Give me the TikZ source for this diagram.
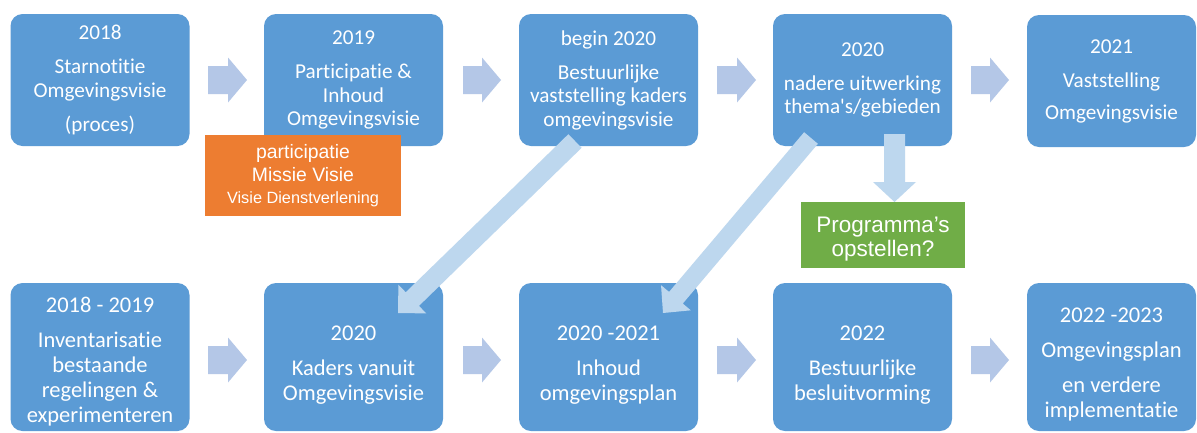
\documentclass[tikz,border=0pt]{standalone}
\usepackage{fontspec}
\setmainfont{Carlito}[Ligatures={TeX,NoCommon}]
\newfontfamily\arialf{Liberation Sans}
\usetikzlibrary{calc}
\definecolor{boxblue}{HTML}{5B9BD5}
\definecolor{arrowblue}{HTML}{B4C7E7}
\definecolor{diagblue}{HTML}{BDD7EE}
\definecolor{orangebox}{HTML}{ED7D31}
\definecolor{greenbox}{HTML}{70AD47}
\newcommand{\blockarrow}[6]{%
  \coordinate (ba-base) at ($(#2)!#5!(#1)$);
  \fill[#6] ($(#1)!#3!90:(#2)$) -- ($(ba-base)!#3!90:(#2)$) -- ($(ba-base)!#4!90:(#2)$) -- (#2)
    -- ($(ba-base)!#4!-90:(#2)$) -- ($(ba-base)!#3!-90:(#2)$) -- ($(#1)!#3!-90:(#2)$) -- cycle;
}
\begin{document}
\begin{tikzpicture}[x=1pt,y=-1pt,
  topbox/.style={fill=boxblue, rounded corners=12pt, text=white, align=center,
    font=\fontsize{21.2}{23.5}\selectfont, minimum width=179pt, minimum height=132pt, inner sep=0pt},
  botbox/.style={fill=boxblue, rounded corners=12pt, minimum width=179pt, minimum height=148pt, inner sep=0pt},
  bottxt/.style={text=white, align=center, font=\fontsize{22.5}{25}\selectfont, inner sep=0pt},
  notebox/.style={text=white, align=center, inner sep=0pt}]
\fill[white] (0,0) rectangle (1197,432);
\useasboundingbox (0,0) rectangle (1197,432);

% top row
\node[topbox] (t1) at (100,80) {2018\\[10.5pt]Starnotitie\\Omgevingsvisie\\[10.5pt](proces)};
\node[topbox] (t2) at (353.5,80) {2019\\[10.5pt]Participatie \&\\Inhoud\\Omgevingsvisie};
\node[topbox] (t3) at (608.5,80) {begin 2020\\[10.5pt]Bestuurlijke\\vaststelling kaders\\omgevingsvisie};
\node[topbox] (t4) at (862.5,80) {2020\\[10.5pt]nadere uitwerking\\thema\textquotesingle s/gebieden};
\node[topbox, minimum width=169pt] (t5) at (1111.5,81) {2021\\[10.5pt]Vaststelling\\[8.5pt]Omgevingsvisie};

% bottom row
\node[botbox] (b1) at (100,357) {};
\node[botbox] (b2) at (353.5,357) {};
\node[botbox] (b3) at (608.5,357) {};
\node[botbox] (b4) at (862.5,357) {};
\node[botbox, minimum width=169pt] (b5) at (1111.5,357) {};
\node[bottxt] (b1t) at (100,362) {2018 - 2019\\[10pt]Inventarisatie\\bestaande\\regelingen \&\\experimenteren};
\node[bottxt] (b2t) at (353.5,365) {2020\\[10pt]Kaders vanuit\\Omgevingsvisie};
\node[bottxt] (b3t) at (608.5,365) {2020 -2021\\[10pt]Inhoud\\omgevingsplan};
\node[bottxt] (b4t) at (862.5,365) {2022\\[10pt]Bestuurlijke\\besluitvorming};
\node[bottxt] (b5t) at (1111.5,365) {2022 -2023\\[10pt]Omgevingsplan\\[10pt]en verdere\\implementatie};

% horizontal arrows
\coordinate (h1a) at (208,80);  \coordinate (h1b) at (247,80);
\coordinate (h2a) at (463,80);  \coordinate (h2b) at (501,80);
\coordinate (h3a) at (717,80);  \coordinate (h3b) at (756,80);
\coordinate (h4a) at (971,80);  \coordinate (h4b) at (1009,80);
\coordinate (g1a) at (208,360); \coordinate (g1b) at (247,360);
\coordinate (g2a) at (463,360); \coordinate (g2b) at (501,360);
\coordinate (g3a) at (717,360); \coordinate (g3b) at (756,360);
\coordinate (g4a) at (971,360); \coordinate (g4b) at (1009,360);
\foreach \p in {h1,h2,h3,h4,g1,g2,g3,g4}{
  \blockarrow{\p a}{\p b}{14pt}{22.5pt}{19pt}{arrowblue}
}

% diagonal arrows
\coordinate (d1a) at (575,141); \coordinate (d1b) at (398,313);
\coordinate (d2a) at (811,138); \coordinate (d2b) at (663,313);
\blockarrow{d1a}{d1b}{9.5pt}{20pt}{20pt}{diagblue}
\blockarrow{d2a}{d2b}{9pt}{19.5pt}{20pt}{diagblue}

% down arrow
\coordinate (v1a) at (894.5,134); \coordinate (v1b) at (894.5,202);
\blockarrow{v1a}{v1b}{10.5pt}{21.5pt}{20pt}{diagblue}

% orange note
\node[notebox, fill=orangebox, minimum width=196pt, minimum height=81pt,
  font=\arialf\fontsize{19.4}{23}\selectfont] (orange) at (303,175.5)
  {participatie\\Missie Visie\\[-1pt]{\fontsize{16.3}{20}\selectfont Visie Dienstverlening}};
\path[use as bounding box] (0,0) rectangle (1197,432);

% green note
\node[fill=greenbox, minimum width=164pt, minimum height=66pt, inner sep=0pt] (green) at (883,235) {};
\node[notebox, font=\arialf\fontsize{22.5}{23.5}\selectfont] (greent) at (883,239)
  {Programma’s\\opstellen?};
\end{tikzpicture}
\end{document}
